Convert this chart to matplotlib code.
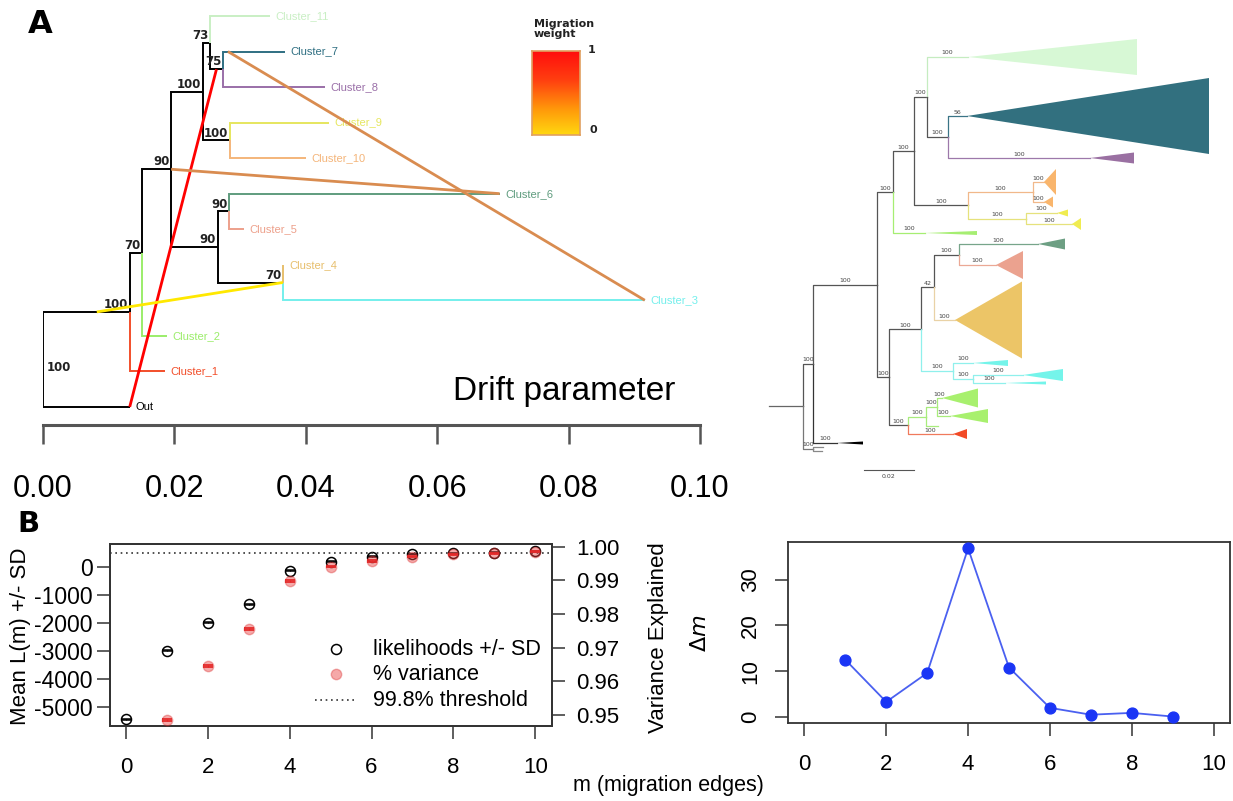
import numpy as np
import matplotlib
matplotlib.use("Agg")
import matplotlib.pyplot as plt
from matplotlib.colors import LinearSegmentedColormap
from matplotlib.patches import Polygon

plt.rcParams['font.family'] = ['Liberation Sans', 'DejaVu Sans']

W, H = 1233, 801

# ---------------- A left: TreeMix tree (drift units) ----------------
tm_nodes = ['root', 'n1', 'Out', 'Cluster_1', 'n2', 'Cluster_2', 'n3', 'n4', 'n5',
            'Cluster_11', 'n6', 'Cluster_7', 'Cluster_8', 'n7', 'Cluster_9', 'Cluster_10',
            'n8', 'n9', 'Cluster_6', 'Cluster_5', 'n10', 'Cluster_4', 'Cluster_3']
tm_parent = [None, 'root', 'root', 'n1', 'n1', 'n2', 'n2', 'n3', 'n4',
             'n5', 'n5', 'n6', 'n6', 'n4', 'n7', 'n7',
             'n3', 'n8', 'n9', 'n9', 'n8', 'n10', 'n10']
tm_drift = [0.0, 0.0132, 0.0132, 0.0186, 0.0151, 0.0189, 0.0195, 0.0243, 0.0254,
            0.0345, 0.0274, 0.0368, 0.0429, 0.0284, 0.0435, 0.0400,
            0.0266, 0.0283, 0.0695, 0.0306, 0.0365, 0.0366, 0.0916]
tm_support = ['100', '100', '', '', '70', '', '90', '100', '73',
              '', '75', '', '', '100', '', '',
              '90', '90', '', '', '70', '', '']
tm_leaf_order = ['Cluster_11', 'Cluster_7', 'Cluster_8', 'Cluster_9', 'Cluster_10',
                 'Cluster_6', 'Cluster_5', 'Cluster_4', 'Cluster_3', 'Cluster_2',
                 'Cluster_1', 'Out']
tm_colors = {'Cluster_11': '#c9efc4', 'Cluster_7': '#2f6f82', 'Cluster_8': '#9a6fa8',
             'Cluster_9': '#e6e65e', 'Cluster_10': '#f4b57a', 'Cluster_6': '#5f9c7e',
             'Cluster_5': '#eda08b', 'Cluster_4': '#e7bf6c', 'Cluster_3': '#74efec',
             'Cluster_2': '#9bed6a', 'Cluster_1': '#f24e2a', 'Out': 'black'}

# migration edges: (node, fraction along its branch)
mig_from = ['Out', 'n1', 'n3', 'Cluster_7']
mig_from_frac = [1.0, 0.62, 1.0, 0.08]
mig_to = ['n6', 'n10', 'Cluster_6', 'Cluster_3']
mig_to_frac = [0.5, 1.0, 1.0, 1.0]
mig_colors = ['#ff0000', '#ffe800', '#d98c50', '#d98c50']

drift_ticks = [0.0, 0.02, 0.04, 0.06, 0.08, 0.10]

# ---------------- A right: FigTree ML tree ----------------
ft_nodes = ['R', 'N1', 'og', 'og1', 'og2', 'outb', 'N2', 'N3', 'N10', 'N4', 'c2', 'N5', 'N7',
            'LG', 'N6', 'teal', 'purple', 'N8', 'oa', 'ob', 'N9', 'ya', 'yb', 'N11', 'N16',
            'N12', 'N14', 'N13', 'tan', 'g6', 'salmon', 'ca', 'N15', 'cb', 'cc', 'N17', 'red',
            'N18', 'gc', 'ga', 'gb']
ft_parent = [None, 'R', 'R', 'og', 'og', 'N1', 'N1', 'N2', 'N2', 'N3', 'N3', 'N4', 'N4',
             'N5', 'N5', 'N6', 'N6', 'N7', 'N8', 'N8', 'N7', 'N9', 'N9', 'N10', 'N10',
             'N11', 'N11', 'N12', 'N12', 'N13', 'N13', 'N14', 'N14', 'N15', 'N15', 'N16', 'N16',
             'N17', 'N17', 'N18', 'N18']
ft_depth = [0.0, 0.004, 0.004, 0.008, 0.0076, 0.0136, 0.0296, 0.036, 0.0344, 0.0444, 0.0488,
            0.0496, 0.066, 0.066, 0.058, 0.0656, 0.1148, 0.092, 0.0964, 0.0964, 0.0892, 0.1016,
            0.1076, 0.0472, 0.042, 0.0524, 0.06, 0.0624, 0.0608, 0.094, 0.0772, 0.068, 0.068,
            0.088, 0.0808, 0.0492, 0.06, 0.0536, 0.054, 0.0556, 0.0588]
ft_support = ['', '100', '100', '', '', '100', '100', '100', '100', '100', '100', '100', '100',
              '100', '100', '56', '100', '100', '100', '100', '100', '100', '100', '100', '100',
              '42', '100', '100', '100', '100', '100', '100', '100', '100', '100', '100', '100',
              '100', '', '100', '100']
ft_tip_row = {'og1': 447, 'og2': 450.5, 'outb': 443, 'c2': 233, 'LG': 57, 'teal': 116,
              'purple': 158, 'oa': 182, 'ob': 202, 'ya': 213, 'yb': 224, 'tan': 320, 'g6': 244,
              'salmon': 265, 'ca': 363, 'cb': 375, 'cc': 383, 'red': 434, 'gc': 426,
              'ga': 398, 'gb': 416}
ft_clade_end = {'outb': 0.024, 'c2': 0.0696, 'LG': 0.1336, 'teal': 0.1624, 'purple': 0.1324,
                'oa': 0.1012, 'ob': 0.1, 'ya': 0.106, 'yb': 0.1112, 'tan': 0.0876, 'g6': 0.1048,
                'salmon': 0.088, 'ca': 0.082, 'cb': 0.104, 'cc': 0.0972, 'red': 0.0656,
                'ga': 0.07, 'gb': 0.074}
ft_clade_half = {'outb': 1.5, 'c2': 2, 'LG': 18, 'teal': 38, 'purple': 5.5, 'oa': 13,
                 'ob': 5.5, 'ya': 3.5, 'yb': 6, 'tan': 38.5, 'g6': 5.5, 'salmon': 14, 'ca': 3,
                 'cb': 6, 'cc': 1.5, 'red': 5, 'ga': 9.5, 'gb': 7}
ft_branch_col = {'og': '#777777', 'og1': '#888888', 'og2': '#888888', 'outb': '#333333',
                 'c2': '#a6ee72', 'LG': '#c5ecc0', 'teal': '#3a7486', 'purple': '#9d78aa',
                 'N8': '#f1b88a', 'oa': '#f1b88a', 'ob': '#f1b88a',
                 'N9': '#e6e27c', 'ya': '#e6e27c', 'yb': '#e6e27c', 'tan': '#e9d2a6',
                 'g6': '#77a58a', 'salmon': '#eba895', 'N14': '#8ff0ec', 'ca': '#8ff0ec',
                 'N15': '#8ff0ec', 'cb': '#8ff0ec', 'cc': '#8ff0ec', 'N17': '#a8ec7c',
                 'N18': '#a8ec7c', 'gc': '#a8ec7c', 'ga': '#a8ec7c', 'gb': '#a8ec7c',
                 'red': '#f07a5c'}
ft_fill_col = {'outb': 'black', 'c2': '#a6ee72', 'LG': '#d7f8d5', 'teal': '#32707f',
               'purple': '#9a70a2', 'oa': '#f9b56c', 'ob': '#f9b56c', 'ya': '#f0ec50',
               'yb': '#f0ec50', 'tan': '#ecc567', 'g6': '#6d9f83', 'salmon': '#eba28f',
               'ca': '#74f4ea', 'cb': '#74f4ea', 'cc': '#74f4ea', 'red': '#f24a26',
               'ga': '#a8f06e', 'gb': '#a8f06e'}
ft_root_stem = -0.0136

# ---------------- B: migration edges ----------------
m_lik = [0, 1, 2, 3, 4, 5, 6, 7, 8, 9, 10]
lik_mean = [-5437, -2989, -1988, -1333, -131, 190, 369, 470, 490, 510, 560]
lik_sd = [22, 18, 16, 15, 16, 12, 10, 10, 9, 9, 8]
m_var = [1, 2, 3, 4, 5, 6, 7, 8, 9, 10]
var_expl = [0.9485, 0.9646, 0.9755, 0.9898, 0.9941, 0.9958, 0.9970, 0.9977, 0.9980, 0.9985]
var_sd = [0.0002] * 10
threshold = 0.998

m_delta = [1, 2, 3, 4, 5, 6, 7, 8, 9]
delta_m = [12.5, 3.3, 9.6, 36.8, 10.8, 2.0, 0.5, 0.9, 0.1]


def px_box(x0, y0, x1, y1):
    return [x0 / W, 1 - y1 / H, (x1 - x0) / W, (y1 - y0) / H]


def layout_rows(nodes, parent, tip_row):
    kids = {n: [] for n in nodes}
    for n, p in zip(nodes, parent):
        if p is not None:
            kids[p].append(n)
    rows = dict(tip_row)

    def row(n):
        if n not in rows:
            rows[n] = np.mean([row(k) for k in kids[n]])
        return rows[n]
    for n in nodes:
        row(n)
    return rows


def r_box(a):
    for s in a.spines.values():
        s.set_color('#333333')
        s.set_linewidth(1.3)
    a.tick_params(direction='out', length=9.5, width=1.1, color='#333333')


fig = plt.figure(figsize=(W / 100, H / 100), dpi=100)

# ================= A left =================
ax = fig.add_axes(px_box(43, 0, 700, 425))
ax.set_xlim(0, 0.1)
ax.set_ylim(11.51, -0.45)
for s in ['top', 'left', 'right']:
    ax.spines[s].set_visible(False)
ax.spines['bottom'].set_color('#555555')
ax.spines['bottom'].set_linewidth(2.2)
ax.set_yticks([])
ax.set_xticks(drift_ticks)
ax.set_xticklabels(['%.2f' % t for t in drift_ticks], fontsize=22)
ax.tick_params(axis='x', length=14, width=1.8, color='#555555', pad=21)

tm_rows = layout_rows(tm_nodes, tm_parent, {n: i for i, n in enumerate(tm_leaf_order)})
tm_x = dict(zip(tm_nodes, tm_drift))
tm_par = dict(zip(tm_nodes, tm_parent))

for n, p, d, sup in zip(tm_nodes, tm_parent, tm_drift, tm_support):
    y = tm_rows[n]
    c = tm_colors.get(n, 'black')
    if p is not None:
        ax.plot([tm_x[p], tm_x[p], d], [tm_rows[p], y, y], color=c, lw=1.4,
                solid_joinstyle='miter', solid_capstyle='butt', zorder=2)
    if n in tm_colors:
        ax.annotate(n, (d, y), xytext=(4, 0), textcoords='offset points',
                    va='center', ha='left', fontsize=8, color=c)
    if sup and p is None:
        ax.annotate(sup, (d, y), xytext=(2.5, -1), textcoords='offset points',
                    ha='left', va='top', fontsize=8.5, fontweight='bold',
                    family='DejaVu Sans', color='#222222')
    elif sup:
        ax.annotate(sup, (d, y), xytext=(-1.2, 0.6), textcoords='offset points',
                    ha='right', va='bottom', fontsize=8.5, fontweight='bold',
                    family='DejaVu Sans', color='#222222')


def branch_point(n, f):
    p = tm_par[n]
    x0 = tm_x[p] if p is not None else tm_x[n]
    return x0 + f * (tm_x[n] - x0), tm_rows[n]


for a, fa, b, fb, c in zip(mig_from, mig_from_frac, mig_to, mig_to_frac, mig_colors):
    x0, y0 = branch_point(a, fa)
    x1, y1 = branch_point(b, fb)
    ax.plot([x0, x1], [y0, y1], color=c, lw=2.0, solid_capstyle='butt', zorder=3)

ax.text(0.0793, 10.58, 'Drift parameter', fontsize=24, ha='center', va='center')

# migration weight scale
heat = LinearSegmentedColormap.from_list(
    'mw', [(0, '#ffd810'), (0.3, '#ff9a0a'), (0.65, '#ff4010'), (1, '#ff0d0d')])
cax = fig.add_axes(px_box(532, 51, 580, 135))
cax.imshow(np.linspace(1, 0, 256).reshape(-1, 1), cmap=heat, aspect='auto', vmin=0, vmax=1)
cax.set_xticks([])
cax.set_yticks([])
for s in cax.spines.values():
    s.set_color('#e0a060')
    s.set_linewidth(1.2)
fig.text(534 / W, 1 - 19 / H, 'Migration\nweight', fontsize=8, fontweight='bold',
         family='DejaVu Sans', color='#222222', ha='left', va='top', linespacing=1.0)
fig.text(588 / W, 1 - 50 / H, '1', fontsize=8, fontweight='bold', family='DejaVu Sans',
         color='#222222', ha='left', va='center')
fig.text(589 / W, 1 - 130 / H, '0', fontsize=8, fontweight='bold', family='DejaVu Sans',
         color='#222222', ha='left', va='center')

# ================= A right =================
rax = fig.add_axes(px_box(760, 30, 1233, 500))
rax.set_xlim(-0.0172, 0.172)
rax.set_ylim(500, 30)
rax.axis('off')

ft_rows = layout_rows(ft_nodes, ft_parent, ft_tip_row)
ft_x = dict(zip(ft_nodes, ft_depth))
rax.plot([ft_root_stem, 0], [ft_rows['R'], ft_rows['R']], color='#666666', lw=0.9)
for n, p, d, sup in zip(ft_nodes, ft_parent, ft_depth, ft_support):
    if p is None:
        continue
    y = ft_rows[n]
    c = ft_branch_col.get(n, '#555555')
    rax.plot([ft_x[p], ft_x[p], d], [ft_rows[p], y, y], color=c, lw=0.9,
             solid_joinstyle='round', zorder=2)
    if n in ft_clade_end:
        h = ft_clade_half[n]
        e = ft_clade_end[n]
        rax.add_patch(Polygon([(d, y), (e, y - h), (e, y + h)], closed=True,
                              fc=ft_fill_col[n], ec='none', zorder=3))
    if sup:
        rax.text((ft_x[p] + d) / 2, y - 1.5, sup, fontsize=4.5, ha='center', va='bottom',
                 color='#444444', family='DejaVu Sans')

rax.plot([0.0244, 0.0444], [470, 470], color='#555555', lw=0.8)
rax.text(0.0344, 474, '0.02', fontsize=4.5, ha='center', va='top', color='#444444',
         family='DejaVu Sans')

# ================= B left =================
bax = fig.add_axes(px_box(110, 544, 552, 726))
bax.set_xlim(-0.39, 10.41)
bax.set_ylim(-5679, 821)
bax2 = bax.twinx()
bax2.set_ylim(0.94673, 1.0008)
r_box(bax)
r_box(bax2)

bax.set_xticks([0, 2, 4, 6, 8, 10])
bax.set_xticklabels(['0', '2', '4', '6', '8', '10'], fontsize=16)
bax.tick_params(axis='x', pad=12.5)
lt = [-5000, -4000, -3000, -2000, -1000, 0]
bax.set_yticks(lt)
bax.set_yticklabels([str(t) for t in lt], fontsize=16.5)
bax.tick_params(axis='y', pad=3)
rt = [0.95, 0.96, 0.97, 0.98, 0.99, 1.00]
bax2.set_yticks(rt)
bax2.set_yticklabels(['%.2f' % t for t in rt], fontsize=16)
bax2.tick_params(axis='y', pad=8)

bax.set_ylabel('Mean L(m) +/- SD', fontsize=16)
bax.yaxis.set_label_coords(-0.178, 0.495)
bax2.set_ylabel('Variance Explained', fontsize=16)
bax2.yaxis.set_label_coords(1.217, 0.486)

bax.errorbar(m_lik, lik_mean, yerr=lik_sd, fmt='o', ms=7.2, mfc='none', mec='black',
             mew=1.1, ecolor='black', elinewidth=0.8, capsize=3.6, capthick=1.0, zorder=3)
bax2.axhline(threshold, color='#333333', lw=1.2, ls=(0, (1, 2.2)))
bax2.errorbar(m_var, var_expl, yerr=var_sd, fmt='o', ms=7.5, mfc=(0.92, 0.25, 0.25, 0.45),
              mec=(0.85, 0.15, 0.15, 0.35), ecolor='#e01818', elinewidth=0.8, capsize=3.6,
              capthick=1.3, zorder=3)

# legend
bax.plot([0.511], [0.423], 'o', ms=7.2, mfc='none', mec='black', mew=1.1,
         transform=bax.transAxes)
bax.plot([0.511], [0.284], 'o', ms=7.5, mfc=(0.92, 0.25, 0.25, 0.45),
         mec=(0.85, 0.15, 0.15, 0.35), transform=bax.transAxes)
bax.plot([0.464, 0.554], [0.141, 0.141], color='#333333', lw=1.2, ls=(0, (1, 2.2)),
         transform=bax.transAxes)
for yy, t in zip([0.423, 0.284, 0.141], ['likelihoods +/- SD', '% variance', '99.8% threshold']):
    bax.text(0.595, yy, t, transform=bax.transAxes, fontsize=15.5, va='center', ha='left')

# ================= B right =================
dax = fig.add_axes(px_box(788, 542, 1230, 723))
dax.set_xlim(-0.4, 10.4)
dax.set_ylim(-1.31, 38.2)
r_box(dax)
dax.plot(m_delta, delta_m, '-', color='#4a60f0', lw=1.3, zorder=2)
dax.plot(m_delta, delta_m, 'o', color='#1a35f5', ms=7.8, zorder=3)
dax.set_xticks([0, 2, 4, 6, 8, 10])
dax.set_xticklabels(['0', '2', '4', '6', '8', '10'], fontsize=16)
dax.tick_params(axis='x', pad=13)
dax.set_yticks([0, 10, 20, 30])
dax.set_yticklabels(['0', '10', '20', '30'], fontsize=16, rotation=90, va='center')
dax.tick_params(axis='y', pad=10)
dax.set_ylabel(r'$\Delta m$', fontsize=16)
dax.yaxis.set_label_coords(-0.174, 0.497)

fig.text(668 / W, 1 - 786 / H, 'm (migration edges)', fontsize=15.5,
         ha='center', va='center')

# panel letters
fig.text(28 / W, 1 - 33 / H, 'A', fontsize=23, fontweight='bold', family='DejaVu Sans',
         va='baseline', ha='left')
fig.text(17 / W, 1 - 532 / H, 'B', fontsize=21, fontweight='bold', family='DejaVu Sans',
         va='baseline', ha='left')

fig.savefig('out.png', dpi=100)
